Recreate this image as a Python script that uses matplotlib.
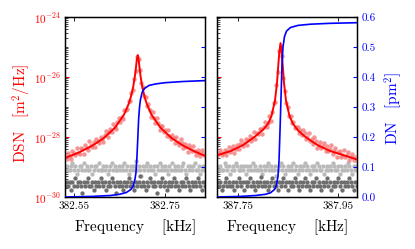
import numpy as np
import matplotlib
matplotlib.use('Agg')
import matplotlib.pyplot as plt
from matplotlib.ticker import FixedLocator, LogLocator, NullFormatter

plt.rcParams['mathtext.fontset'] = 'cm'
plt.rcParams['font.family'] = 'serif'
plt.rcParams['font.serif'] = ['cmr10', 'DejaVu Serif']
plt.rcParams['axes.unicode_minus'] = False
plt.rcParams['axes.formatter.use_mathtext'] = True

# ---------------- data (log10 of DSN in m^2/Hz, DN in pm^2) ----------------
# left resonance
xlim_left = (382.530, 382.838)
freq_left = np.linspace(382.531, 382.837, 100)
red_pts_left = [
 -28.61,-28.72,-28.53,-28.62,-28.72,-28.45,-28.53,-28.59,-28.36,-28.52,
 -28.58,-28.38,-28.40,-28.56,-28.27,-28.36,-28.43,-28.14,-28.25,-28.32,
 -28.16,-28.33,-28.05,-28.14,-28.19,-27.99,-28.07,-28.16,-27.92,-27.80,
 -28.00,-27.84,-27.73,-27.83,-27.56,-27.68,-27.74,-27.50,-27.38,-27.51,
 -27.33,-27.39,-27.11,-27.10,-27.08,-26.81,-26.80,-26.52,-26.43,-26.05,
 -25.80,-25.32,-25.40,-25.75,-26.20,-26.32,-26.63,-26.67,-26.97,-26.91,
 -27.10,-27.32,-27.17,-27.38,-27.52,-27.35,-27.53,-27.76,-27.62,-27.63,
 -27.83,-27.78,-27.97,-27.77,-27.96,-28.07,-27.92,-28.03,-28.21,-28.01,
 -28.15,-28.25,-28.05,-28.19,-28.36,-28.22,-28.34,-28.49,-28.26,-28.36,
 -28.47,-28.29,-28.45,-28.60,-28.42,-28.53,-28.62,-28.44,-28.54,-28.63]
light_gray_left = [
 -29.10,-28.97,-29.10,-29.10,-28.97,-28.85,-29.10,-28.97,-29.22,-29.10,
 -28.97,-28.97,-29.10,-28.85,-29.10,-28.97,-29.10,-29.10,-28.97,-29.22,
 -29.10,-28.97,-28.97,-29.10,-28.85,-29.10,-29.10,-28.97,-29.10,-28.97,
 -29.22,-29.10,-28.97,-28.85,-29.10,-28.97,-29.10,-29.10,-28.97,-29.10,
 -28.97,-29.10,-28.85,-29.10,-28.97,-29.22,-29.10,-28.97,-29.10,-28.97,
 -28.80,-29.10,-28.97,-29.10,-29.30,-28.97,-29.10,-28.97,-28.85,-29.10,
 -28.97,-29.10,-29.10,-28.97,-29.22,-28.97,-29.10,-28.85,-29.10,-28.97,
 -29.10,-28.97,-29.10,-29.22,-28.97,-29.10,-28.85,-29.10,-28.97,-29.10,
 -28.97,-29.10,-29.10,-28.97,-28.85,-29.10,-29.22,-28.97,-29.10,-28.97,
 -29.10,-28.97,-28.85,-29.10,-29.10,-28.97,-29.22,-29.10,-28.97,-29.10]
dark_gray_left = [
 -29.63,-29.49,-29.63,-29.49,-29.76,-29.49,-29.63,-29.37,-29.63,-29.49,
 -29.49,-29.63,-29.87,-29.49,-29.63,-29.49,-29.37,-29.63,-29.63,-29.49,
 -29.76,-29.49,-29.63,-29.49,-29.63,-29.37,-29.49,-29.63,-29.49,-29.76,
 -29.63,-29.49,-29.63,-29.37,-29.49,-29.63,-29.87,-29.49,-29.63,-29.49,
 -29.63,-29.76,-29.49,-29.63,-29.49,-29.37,-29.63,-29.49,-29.63,-29.76,
 -29.49,-29.63,-29.49,-29.30,-29.63,-29.49,-29.63,-29.76,-29.49,-29.63,
 -29.37,-29.49,-29.63,-29.49,-29.63,-29.87,-29.49,-29.63,-29.49,-29.37,
 -29.63,-29.49,-29.76,-29.63,-29.49,-29.63,-29.49,-29.37,-29.63,-29.49,
 -29.63,-29.76,-29.49,-29.63,-29.49,-29.63,-29.37,-29.49,-29.63,-29.76,
 -29.49,-29.63,-29.49,-29.63,-29.37,-29.49,-29.63,-29.76,-29.49,-29.63]
fit_freq_left = [382.530,382.560,382.590,382.615,382.640,382.660,382.670,
 382.675,382.680,382.684,382.686,382.688,382.690,382.692,382.694,382.696,
 382.700,382.705,382.710,382.720,382.740,382.765,382.790,382.815,382.838]
fit_left = [-28.70,-28.52,-28.29,-28.04,-27.69,-27.25,-26.90,-26.66,-26.33,
 -25.95,-25.70,-25.42,-25.27,-25.42,-25.70,-25.95,-26.33,-26.66,-26.90,
 -27.25,-27.69,-28.04,-28.29,-28.48,-28.63]
dn_freq_left = [382.530,382.590,382.630,382.650,382.665,382.675,382.680,
 382.684,382.686,382.688,382.690,382.692,382.694,382.696,382.700,382.705,
 382.715,382.730,382.750,382.790,382.838]
dn_left = [0.000,0.002,0.005,0.009,0.015,0.025,0.037,0.060,0.080,0.125,0.190,
 0.260,0.300,0.325,0.350,0.362,0.372,0.377,0.381,0.385,0.388]

# right resonance
xlim_right = (387.708, 387.988)
freq_right = np.linspace(387.709, 387.987, 100)
red_pts_right = [
 -28.62,-28.52,-28.43,-28.61,-28.53,-28.42,-28.61,-28.46,-28.32,-28.50,
 -28.39,-28.30,-28.53,-28.39,-28.26,-28.41,-28.24,-28.10,-28.31,-28.21,
 -28.07,-28.27,-28.09,-27.98,-28.13,-28.03,-27.84,-28.05,-27.86,-27.91,
 -27.73,-27.73,-27.89,-27.68,-27.51,-27.67,-27.54,-27.31,-27.45,-27.17,
 -26.88,-26.84,-26.27,-25.83,-25.12,-24.96,-25.30,-26.02,-26.47,-26.87,
 -26.99,-27.31,-27.31,-27.52,-27.49,-27.70,-27.67,-27.65,-27.88,-27.78,
 -27.92,-27.77,-27.87,-28.08,-28.00,-27.86,-28.12,-28.07,-28.22,-28.01,
 -28.13,-28.36,-28.27,-28.17,-28.37,-28.31,-28.21,-28.48,-28.30,-28.46,
 -28.39,-28.28,-28.55,-28.48,-28.38,-28.66,-28.49,-28.47,-28.66,-28.60,
 -28.43,-28.65,-28.59,-28.50,-28.77,-28.66,-28.58,-28.76,-28.65,-28.79]
light_gray_right = [
 -28.98,-29.10,-28.98,-29.10,-29.10,-28.86,-28.98,-29.10,-28.98,-29.22,
 -29.10,-28.98,-29.10,-28.86,-28.98,-29.10,-29.10,-28.98,-29.10,-28.98,
 -29.22,-28.98,-29.10,-28.98,-29.10,-28.86,-29.10,-28.98,-29.10,-29.10,
 -28.98,-29.10,-29.22,-28.98,-29.10,-28.98,-28.86,-29.10,-28.98,-29.10,
 -29.10,-28.98,-29.30,-29.10,-28.98,-28.86,-29.10,-28.98,-29.22,-29.10,
 -28.98,-29.10,-28.98,-29.10,-28.86,-29.10,-28.98,-29.22,-29.10,-28.98,
 -29.10,-28.98,-28.86,-29.10,-28.98,-29.10,-29.22,-28.98,-29.10,-28.98,
 -29.10,-28.86,-28.98,-29.10,-29.10,-28.98,-29.22,-29.10,-28.98,-29.10,
 -28.98,-29.10,-28.86,-28.98,-29.10,-29.10,-28.98,-29.22,-28.98,-29.10,
 -29.10,-28.98,-29.10,-28.86,-28.98,-29.10,-29.22,-28.98,-29.10,-28.98]
dark_gray_right = [
 -29.50,-29.63,-29.50,-29.75,-29.63,-29.50,-29.38,-29.63,-29.50,-29.63,
 -29.63,-29.50,-29.75,-29.50,-29.63,-29.38,-29.50,-29.63,-29.50,-29.75,
 -29.50,-29.63,-29.50,-29.38,-29.63,-29.50,-29.63,-29.75,-29.50,-29.63,
 -29.50,-29.33,-29.63,-29.50,-29.63,-29.50,-29.75,-29.63,-29.50,-29.38,
 -29.63,-29.50,-29.63,-29.75,-29.50,-29.63,-29.50,-29.38,-29.63,-29.50,
 -29.75,-29.50,-29.63,-29.50,-29.63,-29.38,-29.50,-29.63,-29.75,-29.50,
 -29.63,-29.50,-29.38,-29.63,-29.50,-29.63,-29.75,-29.50,-29.63,-29.50,
 -29.38,-29.63,-29.50,-29.63,-29.75,-29.50,-29.63,-29.50,-29.38,-29.63,
 -29.50,-29.75,-29.63,-29.50,-29.63,-29.50,-29.38,-29.63,-29.50,-29.75,
 -29.50,-29.63,-29.50,-29.63,-29.38,-29.50,-29.63,-29.75,-29.50,-29.63]
fit_freq_right = [387.708,387.735,387.760,387.785,387.800,387.810,387.817,
 387.824,387.828,387.8303,387.8325,387.835,387.8375,387.8397,387.842,
 387.846,387.853,387.860,387.870,387.885,387.910,387.935,387.960,387.988]
fit_right = [-28.61,-28.47,-28.27,-27.97,-27.76,-27.56,-27.30,-26.78,-26.20,
 -25.67,-25.20,-24.87,-25.20,-25.67,-26.20,-26.78,-27.30,-27.56,-27.78,
 -28.00,-28.28,-28.47,-28.60,-28.75]
dn_freq_right = [387.708,387.755,387.785,387.805,387.815,387.823,387.827,
 387.830,387.832,387.834,387.836,387.838,387.840,387.843,387.847,387.855,
 387.870,387.895,387.935,387.988]
dn_right = [0.000,0.002,0.005,0.009,0.014,0.025,0.040,0.070,0.120,0.220,
 0.330,0.440,0.500,0.535,0.553,0.565,0.572,0.576,0.579,0.581]

xticks_left = [382.55, 382.75]
xticks_right = [387.75, 387.95]
log_ticks = [1e-30, 1e-28, 1e-26, 1e-24]
log_ticklabels = [r'$10^{-30}$', r'$10^{-28}$', r'$10^{-26}$', r'$10^{-24}$']
dn_ticks = [0.0, 0.1, 0.2, 0.3, 0.4, 0.5, 0.6]

# ---------------- figure ----------------
RED = '#ff0000'
PT_RED = '#f27a7a'
LGRAY = '#bababa'
DGRAY = '#6e6e6e'
BLUE = '#0000ff'

fig = plt.figure(figsize=(4.15, 2.49), dpi=100)
W, H = 415.0, 249.0
ax1 = fig.add_axes([65 / W, 1 - 197 / H, 140 / W, 180 / H])
ax2 = fig.add_axes([217 / W, 1 - 197 / H, 140 / W, 180 / H], sharey=ax1)

panels = [
    (ax1, freq_left, red_pts_left, light_gray_left, dark_gray_left,
     fit_freq_left, fit_left, dn_freq_left, dn_left, xlim_left, xticks_left),
    (ax2, freq_right, red_pts_right, light_gray_right, dark_gray_right,
     fit_freq_right, fit_right, dn_freq_right, dn_right, xlim_right, xticks_right),
]

for k, (ax, fr, rp, lg, dg, ff, fv, df, dv, xl, xt) in enumerate(panels):
    ax.set_yscale('log')
    ax.plot(fr, 10.0 ** np.array(lg), 'o', ms=3.1, mec='none', color=LGRAY, zorder=2)
    ax.plot(fr, 10.0 ** np.array(dg), 'o', ms=3.1, mec='none', color=DGRAY, zorder=2)
    ax.plot(fr, 10.0 ** np.array(rp), 'o', ms=3.2, mec='none', color=PT_RED, alpha=0.8, zorder=3)
    ax.plot(ff, 10.0 ** np.array(fv), '-', color=RED, lw=1.4, zorder=4)
    ax.set_xlim(*xl)
    ax.set_ylim(1e-30, 1e-24)
    ax.xaxis.set_major_locator(FixedLocator(xt))
    ax.set_xticklabels(['%.2f' % v for v in xt])
    ax.yaxis.set_major_locator(FixedLocator(log_ticks))
    ax.yaxis.set_minor_locator(LogLocator(base=10, subs=np.arange(1, 10), numticks=100))
    ax.yaxis.set_minor_formatter(NullFormatter())
    ax.tick_params(axis='x', which='major', direction='in', top=True, length=3,
                   width=0.6, labelsize=8, pad=3)
    ax.tick_params(axis='y', which='major', direction='in', length=3, width=0.8,
                   color=RED, labelcolor=RED, labelsize=8, pad=3)
    ax.tick_params(axis='y', which='minor', direction='in', length=1.8, width=0.5,
                   color='black')
    for s in ax.spines.values():
        s.set_linewidth(1.0)
    ax.text(0.5, -30 / 180, r'$\mathrm{Frequency}\quad\ [\mathrm{kHz}]$',
            transform=ax.transAxes, ha='center', va='center', fontsize=11)

    axt = ax.twinx()
    axt.plot(df, dv, '-', color=BLUE, lw=1.2, zorder=5)
    axt.set_ylim(0, 0.6)
    axt.yaxis.set_major_locator(FixedLocator(dn_ticks))
    axt.tick_params(axis='y', direction='in', length=3, width=0.8, color=BLUE,
                    labelcolor=BLUE, labelsize=8, pad=3)
    if k == 0:
        axt.tick_params(labelright=False)
    else:
        axt.set_yticklabels(['%.1f' % v for v in dn_ticks])

ax1.set_yticklabels(log_ticklabels)
ax2.tick_params(axis='y', labelleft=False)

fig.text(22 / W, 1 - 113 / H, r'$\mathrm{DSN}\quad[\mathrm{m}^2/\mathrm{Hz}]$',
         rotation=90, ha='center', va='center', color=RED, fontsize=11)
fig.text(393 / W, 1 - 108 / H, r'$\mathrm{DN}\quad[\mathrm{pm}^2]$',
         rotation=90, ha='center', va='center', color=BLUE, fontsize=11)

fig.savefig('out.png', dpi=100)
